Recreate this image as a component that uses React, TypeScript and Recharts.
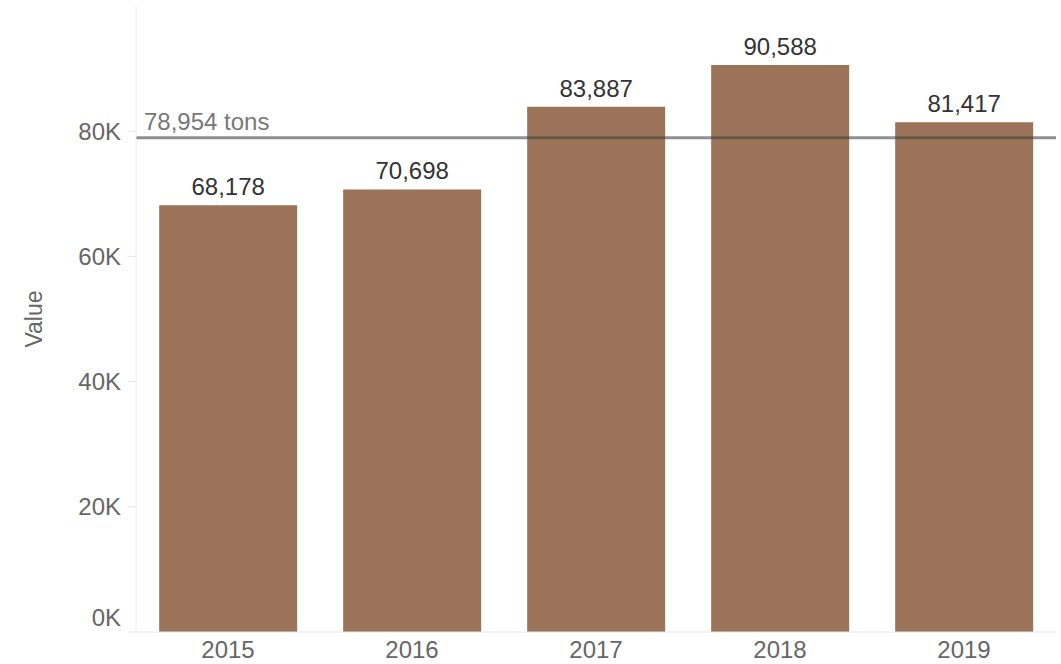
import { BarChart, Bar, XAxis, YAxis, ReferenceLine, LabelList } from "recharts"

const years = ["2015", "2016", "2017", "2018", "2019"]
const values = [68178, 70698, 83887, 90588, 81417]
const yTicks = [0, 20000, 40000, 60000, 80000]
const average = 78954

const data = years.map((year, i) => ({ year, value: values[i] }))

const FONT = "'Liberation Sans', Arial, Helvetica, sans-serif"

const formatK = (v: number) => `${v / 1000}K`

function YTick(props: any) {
  const { x, y, payload } = props
  // Tableau pulls the bottom label up so it sits inside the axis
  const shift = payload.value === 0 ? -15 : 0
  return (
    <text x={x} y={y + shift} textAnchor="end" dominantBaseline="central" fill="#666" fontSize={24} fontFamily={FONT}>
      {formatK(payload.value)}
    </text>
  )
}

function AxisTitle(props: any) {
  const vb = props.viewBox
  const cy = vb.y + vb.height / 2
  return (
    <text x={34} y={cy} transform={`rotate(-90 34 ${cy})`} textAnchor="middle" dominantBaseline="central" fill="#666" fontSize={23} fontFamily={FONT}>
      Value
    </text>
  )
}

export default function App() {
  return (
    <div style={{ position: "absolute", left: 0, top: 0, background: "#fff", fontFamily: FONT }}>
      <BarChart
        width={1061}
        height={664}
        data={data}
        margin={{ top: 6, right: 5, bottom: 2, left: 0 }}
        barCategoryGap="12.6%"
      >
        <XAxis
          dataKey="year"
          height={30}
          axisLine={{ stroke: "#e6e6e6" }}
          tickLine={false}
          tickSize={0}
          tickMargin={9}
          tick={{ fill: "#666", fontSize: 24, fontFamily: FONT }}
        />
        <YAxis
          width={136}
          domain={[0, 100000]}
          ticks={yTicks}
          axisLine={{ stroke: "#eeeeee" }}
          tickLine={{ stroke: "#e6e6e6" }}
          tickSize={8}
          tickMargin={7}
          tick={<YTick />}
          label={{ content: <AxisTitle /> }}
        />
        <Bar dataKey="value" fill="#9a7359" isAnimationActive={false}>
          <LabelList
            dataKey="value"
            position="top"
            offset={10}
            formatter={(v: any) => Number(v).toLocaleString("en-US")}
            style={{ fill: "#333", fontSize: 24, fontFamily: FONT }}
          />
        </Bar>
        <ReferenceLine
          y={average}
          stroke="#444"
          strokeOpacity={0.6}
          strokeWidth={3}
          label={{
            value: `${average.toLocaleString("en-US")} tons`,
            position: "insideBottomLeft",
            offset: 8,
            fill: "#777",
            fontSize: 24,
            fontFamily: FONT,
          }}
        />
      </BarChart>
    </div>
  )
}
